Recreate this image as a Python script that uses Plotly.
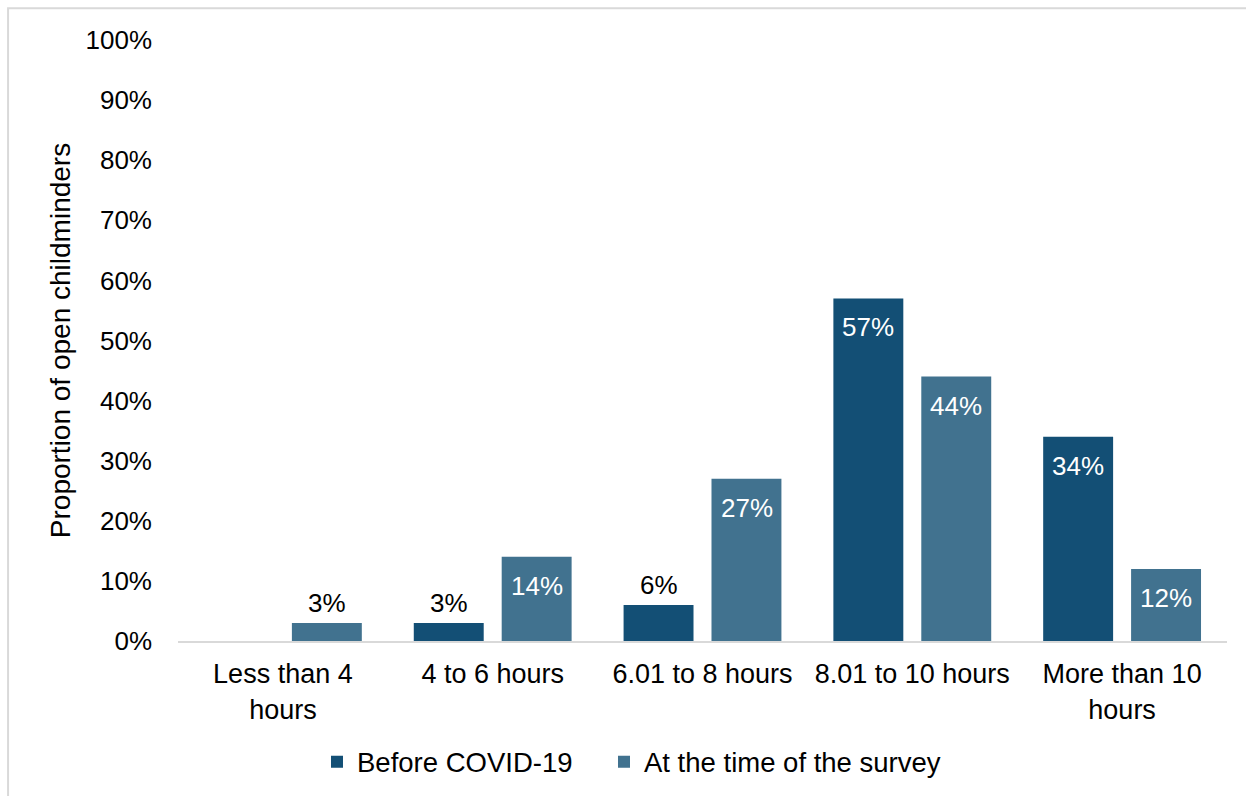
import plotly.graph_objects as go

categories = ["Less than 4<br>hours", "4 to 6 hours", "6.01 to 8 hours", "8.01 to 10 hours", "More than 10<br>hours"]
before_covid = [None, 3, 6, 57, 34]
at_survey = [3, 14, 27, 44, 12]
series_names = ["Before COVID-19", "At the time of the survey"]
tick_vals = [0, 10, 20, 30, 40, 50, 60, 70, 80, 90, 100]
tick_text = [f"{v}%" for v in tick_vals]

dark = "#134F75"
light = "#41728F"
FONT = "Liberation Sans, Arial, sans-serif"
FS = 26

fig = go.Figure()
annotations = []
for name, vals, color, xs, leg in [(series_names[0], before_covid, dark, -44, "legend"),
                                   (series_names[1], at_survey, light, 44, "legend2")]:
    fig.add_trace(go.Bar(name=name, x=categories, y=vals, marker_color=color,
                         marker_line_width=0, legend=leg))
    for cat, v in zip(categories, vals):
        if v is None:
            continue
        inside = v >= 10
        annotations.append(dict(
            x=cat, y=v, xref="x", yref="y", text=f"{v}%", showarrow=False,
            xshift=xs, yshift=-29 if inside else 20, yanchor="middle", xanchor="center",
            font=dict(color="white" if inside else "black", size=FS, family=FONT),
        ))

leg_common = dict(orientation="h", xanchor="left", y=-0.201, yanchor="middle",
                  font=dict(size=27.5), bgcolor="rgba(0,0,0,0)")
fig.update_layout(
    width=1246, height=796,
    margin=dict(l=178, r=19, t=40, b=155, autoexpand=False),
    paper_bgcolor="white", plot_bgcolor="white",
    font=dict(family=FONT, size=FS, color="black"),
    barmode="group", bargap=0.162, bargroupgap=0.2045,
    annotations=annotations,
    legend=dict(x=0.1325, **leg_common),
    legend2=dict(x=0.4061, **leg_common),
    showlegend=True,
    shapes=[dict(type="rect", xref="paper", yref="paper", x0=-0.162, y0=-0.4, x1=1.05, y1=1.053,
                 line=dict(color="#D9D9D9", width=2), fillcolor="rgba(0,0,0,0)", layer="below")],
)
fig.update_xaxes(showline=True, linecolor="#D9D9D9", linewidth=2, ticks="", showgrid=False,
                 tickfont=dict(size=27), ticklabelstandoff=8, automargin=False)
fig.update_yaxes(range=[0, 100], tickvals=tick_vals, ticktext=tick_text, showgrid=False,
                 zeroline=False, showline=False, ticks="", ticklabelstandoff=25, automargin=False,
                 title=dict(text="Proportion of open childminders", font=dict(size=28), standoff=6),
                 tickfont=dict(size=FS))

fig.write_html("out.html")
